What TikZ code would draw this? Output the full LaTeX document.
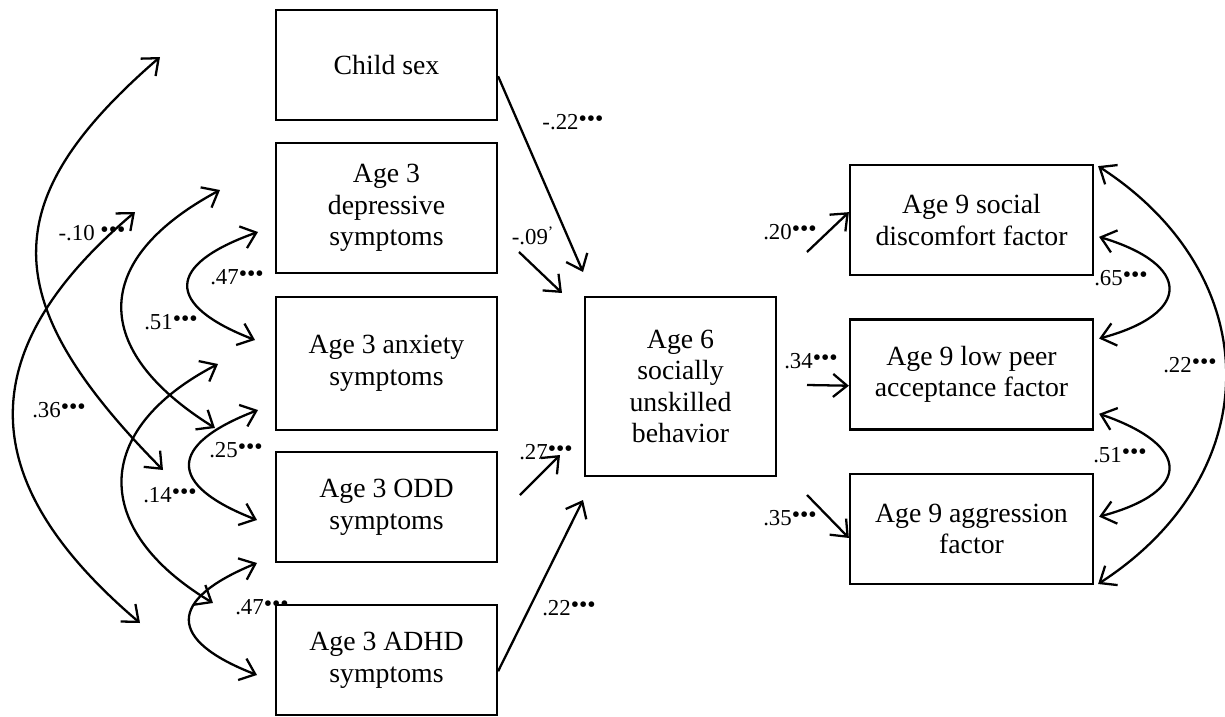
\documentclass[tikz,border=0pt]{standalone}
\usepackage{fontspec}
\setmainfont{Liberation Serif}
\usetikzlibrary{arrows.meta,calc}
\newcommand{\sig}{\raisebox{.3ex}{\fontsize{13.5}{13.5}\selectfont •••}}
\begin{document}
\begin{tikzpicture}[
        x=0.02cm, y=-0.02cm,
        box/.style={rectangle, draw, line width=1.3pt, minimum width=4.42cm, align=center, inner sep=2pt, font=\fontsize{15.8}{18}\selectfont},
        rbox/.style={box, minimum width=4.86cm, minimum height=2.2cm},
        lbl/.style={inner sep=0pt, font=\fontsize{13}{14}\selectfont},
        arr/.style={line width=1.3pt, -{Straight Barb[length=2.8mm,width=4.6mm]}},
        darr/.style={line width=1.3pt, {Straight Barb[length=2.8mm,width=4.6mm]}-{Straight Barb[length=2.8mm,width=4.6mm]}}
    ]
        \useasboundingbox (0,0) rectangle (1225,717);

        % Age 3 boxes
        \node[box, minimum height=2.2cm] (sex) at (386.5,65) {Child sex};
        \node[box, minimum height=2.6cm] (dep) at (386.5,208) {Age 3\\depressive\\symptoms};
        \node[box, minimum height=2.66cm] (anx) at (386.5,363.5) {Age 3 anxiety\\symptoms};
        \node[box, minimum height=2.2cm] (odd) at (386.5,507) {Age 3 ODD\\symptoms};
        \node[box, minimum height=2.2cm] (adhd) at (386.5,660) {Age 3 ADHD\\symptoms};

        % Age 6 box
        \node[box, minimum width=3.82cm, minimum height=3.58cm] (age6) at (680.5,386.5) {Age 6\\socially\\unskilled\\behavior};

        % Age 9 boxes
        \node[rbox] (soc) at (971.5,220) {Age 9 social\\discomfort factor};
        \node[rbox] (peer) at (971.5,374.5) {Age 9 low peer\\acceptance factor};
        \node[rbox] (agg) at (971.5,529) {Age 9 aggression\\factor};

        % Free ends
        \coordinate (sexTip) at (583,272);
        \coordinate (depA) at (519,252);  \coordinate (depB) at (562,293);
        \coordinate (oddA) at (520,495);  \coordinate (oddB) at (560,455);
        \coordinate (adhdTip) at (583,500);
        \coordinate (socA) at (807,252);
        \coordinate (peerA) at (807,385);
        \coordinate (aggA) at (807,495);

        % Paths to age 6 and age 9
        \draw[arr] ($(sex.north east)!0.6!(sex.south east)$) -- (sexTip);
        \draw[arr] (depA) -- (depB);
        \draw[arr] (oddA) -- (oddB);
        \draw[arr] ($(adhd.north east)!0.6!(adhd.south east)$) -- (adhdTip);
        \draw[arr] (socA) -- ($(soc.north west)!0.43!(soc.south west)$);
        \draw[arr] (peerA) -- ($(peer.north west)!0.6!(peer.south west)$);
        \draw[arr] (aggA) -- ($(agg.north west)!0.58!(agg.south west)$);

        % Correlations, left
        \coordinate (m10a) at (160,57);  \coordinate (m10b) at (163,470);
        \coordinate (p36a) at (135,212); \coordinate (p36b) at (140,623);
        \coordinate (p51a) at (220,190); \coordinate (p51b) at (215,428);
        \coordinate (p14a) at (218,364); \coordinate (p14b) at (213,603);
        \coordinate (p47a) at (258,232); \coordinate (p47b) at (255,340);
        \coordinate (p25a) at (258,410); \coordinate (p25b) at (257,520);
        \coordinate (q47a) at (257,563); \coordinate (q47b) at (257,675);
        \draw[darr] (m10a) .. controls (-5,200) and (-5,300) .. (m10b);
        \draw[darr] (p36a) .. controls (-28,350) and (-28,480) .. (p36b);
        \draw[darr] (p51a) .. controls (90,260) and (90,350) .. (p51b);
        \draw[darr] (p14a) .. controls (91,430) and (91,530) .. (p14b);
        \draw[darr] (p47a) .. controls (165,265) and (165,305) .. (p47b);
        \draw[darr] (p25a) .. controls (167,445) and (167,485) .. (p25b);
        \draw[darr] (q47a) .. controls (167,600) and (167,640) .. (q47b);

        % Correlations, right
        \draw[darr] ($(soc.north east)!0.65!(soc.south east)+(5,0)$) .. controls +(93,28) and +(93,-25) .. ($(peer.north east)!0.18!(peer.south east)+(5,0)$);
        \draw[darr] ($(peer.north east)!0.85!(peer.south east)+(5,0)$) .. controls +(93,32) and +(93,-25) .. ($(agg.north east)!0.39!(agg.south east)+(5,0)$);
        \draw[darr] ($(soc.north east)!0.02!(soc.south east)+(4,0)$) .. controls +(170,110) and +(170,-110) .. ($(agg.north east)!0.99!(agg.south east)+(4,0)$);

        % Labels
        \node[lbl] (lsex) at (573,122) {-.22\sig};
        \node[lbl] (ldep) at (533,236) {-.09\textsuperscript{'}};
        \node[lbl] (lodd) at (546,452) {.27\sig};
        \node[lbl] (ladhd) at (569,608) {.22\sig};
        \node[lbl] (lsoc) at (790,232) {.20\sig};
        \node[lbl] (lpeer) at (811,361) {.34\sig};
        \node[lbl] (lagg) at (790,518) {.35\sig};
        \node[lbl] (r65) at (1121,278) {.65\sig};
        \node[lbl] (r51) at (1120,455) {.51\sig};
        \node[lbl] (r22) at (1190,365) {.22\sig};
        \node[lbl] (c10) at (92,233) {-.10 \sig};
        \node[lbl] (c51) at (171,322) {.51\sig};
        \node[lbl] (c47) at (237,277) {.47\sig};
        \node[lbl] (c36) at (59,410) {.36\sig};
        \node[lbl] (c25) at (236,450) {.25\sig};
        \node[lbl] (c14) at (170,495) {.14\sig};
        \node[lbl] (d47) at (262,607) {.47\sig};
    \end{tikzpicture}
\end{document}
